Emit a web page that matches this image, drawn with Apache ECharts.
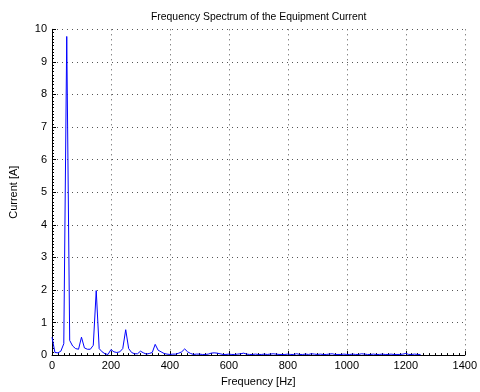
<!DOCTYPE html>
<html>
<head>
<meta charset="utf-8">
<script src="https://cdn.jsdelivr.net/npm/echarts@6/dist/echarts.min.js"></script>
<style>html,body{margin:0;padding:0;background:#fff;}#c{width:480px;height:392px;}</style>
</head>
<body>
<div id="c"></div>
<script>
var frequency = [0,10,20,30,40,50,60,70,80,90,100,110,120,130,140,150,160,170,180,190,
200,210,220,230,240,250,260,270,280,290,300,310,320,330,340,350,360,370,380,390,
400,410,420,430,440,450,460,470,480,490,500,510,520,530,540,550,560,570,580,590,
600,610,620,630,640,650,660,670,680,690,700,710,720,730,740,750,760,770,780,790,
800,810,820,830,840,850,860,870,880,890,900,910,920,930,940,950,960,970,980,990,
1000,1010,1020,1030,1040,1050,1060,1070,1080,1090,1100,1110,1120,1130,1140,1150,1160,1170,1180,1190,
1200,1210,1220,1230,1240,1250];
var current = [0.55,0.08,0.07,0.12,0.35,9.78,0.45,0.28,0.2,0.18,0.55,0.22,0.18,0.18,0.3,1.98,0.2,0.1,0.04,0.02,
0.17,0.1,0.08,0.1,0.2,0.78,0.2,0.08,0.04,0.04,0.12,0.07,0.03,0.05,0.08,0.33,0.15,0.1,0.05,0.03,
0.02,0.03,0.03,0.06,0.1,0.19,0.1,0.05,0.02,0.03,0.03,0.02,0.02,0.03,0.06,0.07,0.06,0.04,0.02,0.02,
0.03,0.02,0.02,0.03,0.04,0.06,0.03,0.02,0.02,0.03,0.02,0.02,0.03,0.02,0.03,0.04,0.03,0.02,0.02,0.02,
0.03,0.02,0.02,0.04,0.02,0.02,0.03,0.02,0.04,0.03,0.02,0.03,0.02,0.02,0.03,0.04,0.02,0.02,0.02,0.03,
0.02,0.02,0.03,0.02,0.02,0.04,0.03,0.02,0.02,0.03,0.02,0.02,0.03,0.02,0.02,0.03,0.02,0.02,0.02,0.03,
0.05,0.02,0.02,0.03,0.02,0.02];
var xTicks = [0,200,400,600,800,1000,1200,1400];
var yTicks = [0,1,2,3,4,5,6,7,8,9,10];

var pts = frequency.map(function(f,i){return [f,current[i]];});
var font = 'Liberation Sans, Arial, Helvetica, sans-serif';
var chart = echarts.init(document.getElementById('c'), null, {renderer:'canvas'});
var gridLine = {show:true, lineStyle:{color:'#555', type:[1,4], width:1}};
chart.setOption({
  animation:false,
  backgroundColor:'#fff',
  title:{text:'Frequency Spectrum of the Equipment Current', left:146, top:7,
    textStyle:{fontFamily:font, fontSize:10.4, fontWeight:'normal', color:'#000'}},
  grid:{left:51.5, right:13.3, top:29.3, bottom:35.5, containLabel:false},
  xAxis:{type:'value', min:xTicks[0], max:xTicks[xTicks.length-1], interval:200,
    name:'Frequency [Hz]', nameLocation:'middle', nameGap:19,
    nameTextStyle:{fontFamily:font, fontSize:11, color:'#000'},
    axisLine:{show:true, lineStyle:{color:'#000', width:1}},
    axisTick:{show:true, inside:true, length:4, lineStyle:{color:'#000'}},
    minorTick:{show:true, splitNumber:10, length:2, lineStyle:{color:'#000'}},
    axisLabel:{fontFamily:font, fontSize:11, color:'#000', margin:5,
      formatter:function(v){return String(v);}},
    splitLine:gridLine},
  yAxis:{type:'value', min:yTicks[0], max:yTicks[yTicks.length-1], interval:1,
    name:'Current [A]', nameLocation:'middle', nameGap:33, nameRotate:90,
    nameTextStyle:{fontFamily:font, fontSize:11, color:'#000'},
    axisLine:{show:true, lineStyle:{color:'#000', width:1}},
    axisTick:{show:true, inside:true, length:4, lineStyle:{color:'#000'}},
    minorTick:{show:true, splitNumber:10, length:2, lineStyle:{color:'#000'}},
    axisLabel:{fontFamily:font, fontSize:11, color:'#000', margin:5,
      formatter:function(v){return String(v);}},
    splitLine:gridLine},
  series:[{type:'line', data:pts, symbol:'none', smooth:false,
    lineStyle:{color:'#0000ff', width:1}, clip:true}]
});
</script>
</body>
</html>
